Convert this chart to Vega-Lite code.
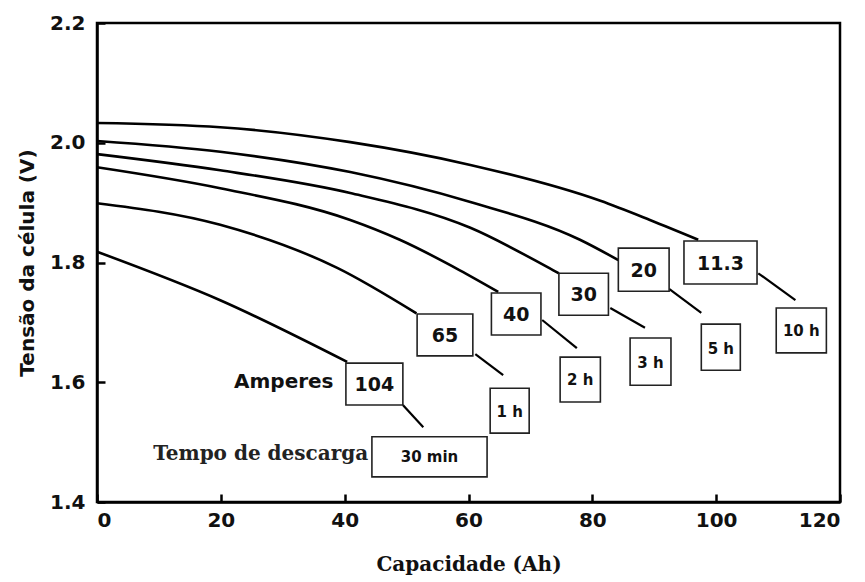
{
  "$schema": "https://vega.github.io/schema/vega-lite/v6.json",
  "width": 743,
  "height": 479,
  "autosize": {"type": "none"},
  "padding": {"left": 97, "top": 23, "right": 25, "bottom": 80},
  "background": "white",
  "datasets": {
    "curves": [
      {"serie": "11.3", "x": 0, "y": 2.033},
      {"serie": "11.3", "x": 19.9, "y": 2.026},
      {"serie": "11.3", "x": 40.9, "y": 2.001},
      {"serie": "11.3", "x": 60.3, "y": 1.963},
      {"serie": "11.3", "x": 81.3, "y": 1.903},
      {"serie": "11.3", "x": 89.3, "y": 1.871},
      {"serie": "11.3", "x": 97.1, "y": 1.838},
      {"serie": "20", "x": 0, "y": 2.003},
      {"serie": "20", "x": 19.9, "y": 1.985},
      {"serie": "20", "x": 40.9, "y": 1.951},
      {"serie": "20", "x": 60.3, "y": 1.901},
      {"serie": "20", "x": 78.0, "y": 1.838},
      {"serie": "20", "x": 84.2, "y": 1.804},
      {"serie": "30", "x": 0, "y": 1.981},
      {"serie": "30", "x": 19.9, "y": 1.954},
      {"serie": "30", "x": 40.9, "y": 1.916},
      {"serie": "30", "x": 60.3, "y": 1.858},
      {"serie": "30", "x": 73.7, "y": 1.787},
      {"serie": "30", "x": 74.6, "y": 1.782},
      {"serie": "40", "x": 0, "y": 1.959},
      {"serie": "40", "x": 19.9, "y": 1.924},
      {"serie": "40", "x": 40.9, "y": 1.871},
      {"serie": "40", "x": 48.9, "y": 1.838},
      {"serie": "40", "x": 58.6, "y": 1.787},
      {"serie": "40", "x": 64.8, "y": 1.751},
      {"serie": "65", "x": 0, "y": 1.899},
      {"serie": "65", "x": 19.9, "y": 1.863},
      {"serie": "65", "x": 38.8, "y": 1.791},
      {"serie": "65", "x": 51.6, "y": 1.715},
      {"serie": "104", "x": 0, "y": 1.818},
      {"serie": "104", "x": 19.9, "y": 1.737},
      {"serie": "104", "x": 40.4, "y": 1.634}
    ],
    "leaders": [
      {"serie": "11.3", "x": 106.8, "y": 1.782},
      {"serie": "11.3", "x": 112.8, "y": 1.737},
      {"serie": "20", "x": 92.4, "y": 1.756},
      {"serie": "20", "x": 97.6, "y": 1.716},
      {"serie": "30", "x": 82.9, "y": 1.724},
      {"serie": "30", "x": 88.5, "y": 1.691},
      {"serie": "40", "x": 71.9, "y": 1.704},
      {"serie": "40", "x": 77.5, "y": 1.657},
      {"serie": "65", "x": 61.1, "y": 1.647},
      {"serie": "65", "x": 65.6, "y": 1.612},
      {"serie": "104", "x": 49.4, "y": 1.562},
      {"serie": "104", "x": 52.7, "y": 1.525}
    ],
    "ampBoxes": [
      {"label": "11.3", "x": 94.8, "x2": 106.6, "y": 1.764, "y2": 1.836, "cx": 100.7, "cy": 1.8},
      {"label": "20", "x": 84.2, "x2": 92.4, "y": 1.752, "y2": 1.824, "cx": 88.3, "cy": 1.788},
      {"label": "30", "x": 74.6, "x2": 82.6, "y": 1.712, "y2": 1.782, "cx": 78.6, "cy": 1.747},
      {"label": "40", "x": 63.7, "x2": 71.7, "y": 1.679, "y2": 1.749, "cx": 67.7, "cy": 1.714},
      {"label": "65", "x": 51.7, "x2": 60.7, "y": 1.644, "y2": 1.714, "cx": 56.2, "cy": 1.679},
      {"label": "104", "x": 40.2, "x2": 49.4, "y": 1.562, "y2": 1.632, "cx": 44.8, "cy": 1.597}
    ],
    "timeBoxes": [
      {"label": "10 h", "x": 109.7, "x2": 117.8, "y": 1.649, "y2": 1.724, "cx": 113.75, "cy": 1.687},
      {"label": "5 h", "x": 97.6, "x2": 103.9, "y": 1.62, "y2": 1.697, "cx": 100.75, "cy": 1.658},
      {"label": "3 h", "x": 86.1, "x2": 92.7, "y": 1.595, "y2": 1.674, "cx": 89.4, "cy": 1.634},
      {"label": "2 h", "x": 74.8, "x2": 81.3, "y": 1.567, "y2": 1.642, "cx": 78.05, "cy": 1.605},
      {"label": "1 h", "x": 63.5, "x2": 69.8, "y": 1.515, "y2": 1.59, "cx": 66.65, "cy": 1.552},
      {"label": "30 min", "x": 44.4, "x2": 63.0, "y": 1.442, "y2": 1.509, "cx": 53.7, "cy": 1.476}
    ],
    "notes": [
      {"label": "Amperes", "x": 38.2, "y": 1.6},
      {"label": "Tempo de descarga", "x": 43.8, "y": 1.48}
    ]
  },
  "layer": [
    {
      "data": {"name": "curves"},
      "mark": {"type": "line", "color": "black", "strokeWidth": 2.6, "interpolate": "monotone"},
      "encoding": {
        "x": {"field": "x", "type": "quantitative", "title": "Capacidade (Ah)",
              "scale": {"domain": [0, 120], "nice": false},
              "axis": {"values": [0, 20, 40, 60, 80, 100, 120], "ticks": true, "tickSize": -8, "tickWidth": 2.5, "tickColor": "black", "labelPadding": 16}},
        "y": {"field": "y", "type": "quantitative", "title": "Tensão da célula (V)",
              "scale": {"domain": [1.4, 2.2], "nice": false, "zero": false},
              "axis": {"values": [1.4, 1.6, 1.8, 2.0, 2.2], "format": ".1f", "ticks": true, "tickSize": -8, "tickWidth": 2.5, "tickColor": "black", "labelPadding": 20}},
        "detail": {"field": "serie"}
      }
    },
    {
      "data": {"name": "leaders"},
      "mark": {"type": "line", "color": "black", "strokeWidth": 2.2},
      "encoding": {
        "x": {"field": "x", "type": "quantitative", "title": "Capacidade (Ah)"},
        "y": {"field": "y", "type": "quantitative", "title": "Tensão da célula (V)"},
        "detail": {"field": "serie"}
      }
    },
    {
      "data": {"name": "ampBoxes"},
      "mark": {"type": "rect", "fill": "white", "stroke": "#222", "strokeWidth": 1.6},
      "encoding": {
        "x": {"field": "x", "type": "quantitative", "title": "Capacidade (Ah)"},
        "x2": {"field": "x2"},
        "y": {"field": "y", "type": "quantitative", "title": "Tensão da célula (V)"},
        "y2": {"field": "y2"}
      }
    },
    {
      "data": {"name": "timeBoxes"},
      "mark": {"type": "rect", "fill": "white", "stroke": "#222", "strokeWidth": 1.6},
      "encoding": {
        "x": {"field": "x", "type": "quantitative", "title": "Capacidade (Ah)"},
        "x2": {"field": "x2"},
        "y": {"field": "y", "type": "quantitative", "title": "Tensão da célula (V)"},
        "y2": {"field": "y2"}
      }
    },
    {
      "data": {"name": "ampBoxes"},
      "mark": {"type": "text", "font": "DejaVu Sans", "fontWeight": "bold", "fontSize": 19, "color": "#111", "align": "center", "baseline": "middle", "dy": 1},
      "encoding": {
        "x": {"field": "cx", "type": "quantitative", "title": "Capacidade (Ah)"},
        "y": {"field": "cy", "type": "quantitative", "title": "Tensão da célula (V)"},
        "text": {"field": "label"}
      }
    },
    {
      "data": {"name": "timeBoxes"},
      "mark": {"type": "text", "font": "DejaVu Sans", "fontWeight": "bold", "fontSize": 15, "color": "#111", "align": "center", "baseline": "middle", "dy": 1},
      "encoding": {
        "x": {"field": "cx", "type": "quantitative", "title": "Capacidade (Ah)"},
        "y": {"field": "cy", "type": "quantitative", "title": "Tensão da célula (V)"},
        "text": {"field": "label"}
      }
    },
    {
      "data": {"name": "notes"},
      "transform": [{"filter": "datum.label === 'Amperes'"}],
      "mark": {"type": "text", "font": "DejaVu Sans", "fontWeight": "bold", "fontSize": 20, "color": "#111", "align": "right", "baseline": "middle"},
      "encoding": {
        "x": {"field": "x", "type": "quantitative", "title": "Capacidade (Ah)"},
        "y": {"field": "y", "type": "quantitative", "title": "Tensão da célula (V)"},
        "text": {"field": "label"}
      }
    },
    {
      "data": {"name": "notes"},
      "transform": [{"filter": "datum.label !== 'Amperes'"}],
      "mark": {"type": "text", "font": "DejaVu Serif", "fontWeight": "bold", "fontSize": 20, "color": "#222", "align": "right", "baseline": "middle"},
      "encoding": {
        "x": {"field": "x", "type": "quantitative", "title": "Capacidade (Ah)"},
        "y": {"field": "y", "type": "quantitative", "title": "Tensão da célula (V)"},
        "text": {"field": "label"}
      }
    }
  ],
  "config": {
    "view": {"stroke": "black", "strokeWidth": 2.5},
    "axis": {
      "grid": false,
      "zindex": 1,
      "domainColor": "black",
      "domainWidth": 2.5,
      "labelFont": "DejaVu Sans",
      "labelFontWeight": "bold",
      "labelFontSize": 20,
      "labelColor": "#111",
      "titleColor": "#111"
    },
    "axisX": {
      "titleFont": "DejaVu Serif",
      "titleFontSize": 20,
      "titleFontWeight": "bold",
      "titlePadding": 24
    },
    "axisY": {
      "titleFont": "DejaVu Sans",
      "titleFontSize": 20,
      "titleFontWeight": "bold",
      "titlePadding": 12
    }
  }
}
